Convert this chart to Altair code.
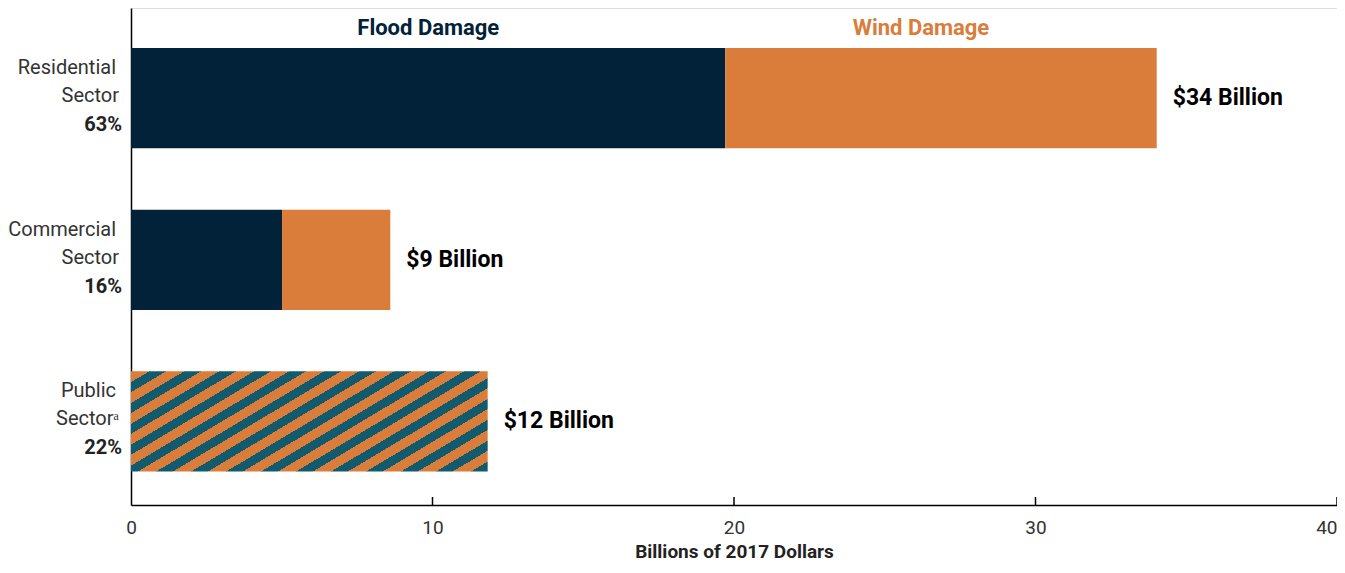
import altair as alt
import pandas as pd

# ---- data ----
sectors = ["Residential", "Commercial", "Public"]
line1 = ["Residential", "Commercial", "Public"]
line2 = ["Sector", "Sector", "Sector\u1d43"]
shares = ["63%", "16%", "22%"]

split_sectors = ["Residential", "Residential", "Commercial", "Commercial"]
split_types = ["Flood Damage", "Wind Damage", "Flood Damage", "Wind Damage"]
split_values = [19.71, 14.31, 5.01, 3.59]

combined_sector = ["Public"]
combined_value = [11.83]

totals = [34.02, 8.60, 11.83]
total_labels = ["$34 Billion", "$9 Billion", "$12 Billion"]

header_text = ["Flood Damage", "Wind Damage"]
header_x = [9.86, 26.2]

tick_values = [10, 20, 30, 40]

FLOOD = "#012238"
WIND = "#DA7D3B"
TEAL = "#125A6E"
FONT = "Roboto"

W, H = 1206, 497

split_df = pd.DataFrame({"sector": split_sectors, "type": split_types, "value": split_values})
comb_df = pd.DataFrame({"sector": combined_sector, "value": combined_value})
lab_df = pd.DataFrame({"sector": sectors, "l1": line1, "l2": line2, "pct": shares,
                       "total": totals, "tlabel": total_labels})
head_df = pd.DataFrame({"text": header_text, "x": header_x})
tick_df = pd.DataFrame({"v": tick_values})

yscale = alt.Scale(domain=sectors, paddingInner=0.38, paddingOuter=0.2277, align=0.545)
xscale = alt.Scale(domain=[0, 40], nice=False)

y_enc = alt.Y("sector:N", scale=yscale,
              axis=alt.Axis(labels=False, ticks=False, title=None, domain=True,
                            domainColor="#000000", domainWidth=1.5))

bars = alt.Chart(split_df).mark_bar(opacity=1).encode(
    x=alt.X("value:Q", stack="zero", scale=xscale,
            axis=alt.Axis(values=[0, 10, 20, 30, 40], tickSize=0, grid=False,
                          domainColor="#000000", domainWidth=1.5,
                          labelFont=FONT, labelFontSize=19, labelColor="#333333",
                          labelPadding=13,
                          labelAlign={"expr": "datum.value == 40 ? 'right' : 'center'"},
                          title="Billions of 2017 Dollars", titleFont=FONT,
                          titleFontSize=19, titleFontWeight="bold", titleColor="#222222",
                          titlePadding=5)),
    y=y_enc,
    color=alt.Color("type:N", scale=alt.Scale(domain=["Flood Damage", "Wind Damage"],
                                              range=[FLOOD, WIND]), legend=None),
    order=alt.Order("type:N"),
)

# striped fill for the public sector bar (not split by type)
N = 15
f_teal = 0.48
stops = []
for k in range(N):
    a = k / N
    b = (k + 1 - f_teal) / N
    c = (k + 1) / N
    stops += [alt.GradientStop(offset=a, color=WIND), alt.GradientStop(offset=b, color=WIND),
              alt.GradientStop(offset=b, color=TEAL), alt.GradientStop(offset=c, color=TEAL)]
stripe = alt.LinearGradient(gradient="linear", stops=stops, x1=0, y1=0, x2=1.204, y2=0.567)

public_bar = alt.Chart(comb_df).mark_bar(color=stripe, opacity=1).encode(
    x=alt.X("value:Q", scale=xscale),
    y=alt.Y("sector:N", scale=yscale),
)

l1 = alt.Chart(lab_df).mark_text(align="right", baseline="middle", font=FONT, fontSize=20,
                                 color="#333333", dy=-30).encode(
    x=alt.value(-15), y=alt.Y("sector:N", scale=yscale), text="l1:N")
l2 = alt.Chart(lab_df).mark_text(align="right", baseline="middle", font=FONT, fontSize=20,
                                 color="#333333", dy=-2).encode(
    x=alt.value(-12), y=alt.Y("sector:N", scale=yscale), text="l2:N")
l3 = alt.Chart(lab_df).mark_text(align="right", baseline="middle", font=FONT, fontSize=20,
                                 fontWeight="bold", color="#222222", dy=27).encode(
    x=alt.value(-9), y=alt.Y("sector:N", scale=yscale), text="pct:N")

tot = alt.Chart(lab_df).mark_text(align="left", baseline="middle", font=FONT, fontSize=23,
                                  fontWeight="bold", color="#000000", dx=16).encode(
    x=alt.X("total:Q", scale=xscale), y=alt.Y("sector:N", scale=yscale), text="tlabel:N")

heads = alt.Chart(head_df).mark_text(align="center", baseline="middle", font=FONT,
                                     fontSize=22, fontWeight="bold").encode(
    x=alt.X("x:Q", scale=xscale), y=alt.value(20), text="text:N",
    color=alt.Color("text:N", scale=alt.Scale(domain=header_text, range=[FLOOD, WIND]),
                    legend=None))

ticks = alt.Chart(tick_df).mark_rule(color="#000000", strokeWidth=1.5).encode(
    x=alt.X("v:Q", scale=xscale), y=alt.value(H - 8), y2=alt.value(H))

chart = alt.layer(bars, public_bar, ticks, l1, l2, l3, tot, heads).resolve_scale(
    color="independent"
).properties(
    width=W, height=H,
    autosize=alt.AutoSizeParams(type="none"),
    padding={"left": 123, "top": 0, "right": 0, "bottom": 60},
).configure_view(stroke=None).configure(background="#ffffff")

chart.save("out.html", embed_options={"renderer": "svg", "actions": False})
